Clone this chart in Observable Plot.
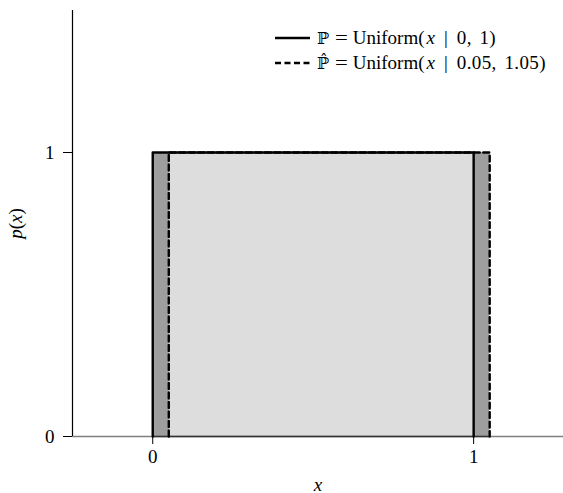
<!DOCTYPE html>
<html><head><meta charset="utf-8">
<script src="https://cdn.jsdelivr.net/npm/d3@7"></script>
<script src="https://cdn.jsdelivr.net/npm/@observablehq/plot@0.6"></script>
<style>
body{margin:0;background:#fff;}
#wrap{position:relative;width:563px;height:493px;font-family:"Liberation Serif","Times New Roman",serif;}
#legend{position:absolute;left:275px;top:25px;font-size:19px;line-height:25px;color:#000;}
#legend .row{display:flex;align-items:center;white-space:nowrap;height:25px;}
#legend svg{margin-right:7px;}
.sym{font-family:"DejaVu Serif",serif;font-size:16px;}
.eq{display:inline-block;margin:0 6px 0 7px;transform:scaleX(1.2);}
.bar{display:inline-block;margin:0 9px 0 9px;}
.xi{display:inline-block;margin-left:2px;}
.args{word-spacing:2.5px;letter-spacing:0.4px;}
</style></head>
<body><div id="wrap"><div id="legend"></div></div>
<script>
// Data
const pSupport = [0, 1];        // P = Uniform(x | 0, 1)
const qSupport = [0.05, 1.05];  // P̂ = Uniform(x | 0.05, 1.05)
const density = 1;
const xTicks = [0, 1];
const yTicks = [0, 1];
const xDomain = [-0.25, 1.28];
const yDomain = [0, 1.5];
const legendSymbols = ["ℙ", "ℙ\u0302"];
const legendLabels = ["0, 1", "0.05, 1.05"];

const boxPath = ([a, b]) => [
  {x: a, y: 0}, {x: a, y: density}, {x: b, y: density}, {x: b, y: 0}
];
const overlap = [{x1: Math.max(pSupport[0], qSupport[0]), x2: Math.min(pSupport[1], qSupport[1])}];
const diffs = [
  {x1: Math.min(pSupport[0], qSupport[0]), x2: Math.max(pSupport[0], qSupport[0])},
  {x1: Math.min(pSupport[1], qSupport[1]), x2: Math.max(pSupport[1], qSupport[1])}
];

const chart = Plot.plot({
  width: 563, height: 493,
  marginLeft: 72, marginRight: 0, marginTop: 10, marginBottom: 57,
  style: {fontFamily: "'Liberation Serif', 'Times New Roman', serif", fontSize: "19px", color: "#000", background: "#fff"},
  x: {domain: xDomain},
  y: {domain: yDomain},
  marks: [
    Plot.rect(overlap, {x1: "x1", x2: "x2", y1: 0, y2: density, fill: "#dddddd"}),
    Plot.rect(diffs, {x1: "x1", x2: "x2", y1: 0, y2: density, fill: "#9e9e9e"}),
    Plot.ruleY([0], {stroke: "#808080", strokeWidth: 1.5}),
    Plot.ruleY([0], {x1: d3.min([pSupport[0], qSupport[0]]), x2: d3.max([pSupport[1], qSupport[1]]), stroke: "#333", strokeWidth: 1.5}),
    Plot.ruleX([xDomain[0]], {y1: yDomain[0], y2: yDomain[1], stroke: "#000", strokeWidth: 1.2}),
    Plot.line(boxPath(pSupport), {x: "x", y: "y", stroke: "#000", strokeWidth: 2.4}),
    Plot.line(boxPath(qSupport), {x: "x", y: "y", stroke: "#000", strokeWidth: 2.4, strokeDasharray: "6,3.5"}),
    Plot.axisX({ticks: xTicks, tickSize: 8, tickPadding: 5, tickFormat: d3.format("d"), label: "x", labelAnchor: "center", labelOffset: 54, labelArrow: "none"}),
    Plot.axisY({ticks: yTicks, tickSize: 9, tickPadding: 9, tickFormat: d3.format("d"), label: "p(x)", labelAnchor: "center", labelOffset: 64, labelArrow: "none"})
  ]
});
document.getElementById("wrap").prepend(chart);

// italic math labels
d3.select(chart).select('g[aria-label="x-axis label"] text').style("font-style", "italic");
const yl = d3.select(chart).select('g[aria-label="y-axis label"] text');
yl.text(null);
yl.append("tspan").style("font-style", "italic").text("p");
yl.append("tspan").text("(");
yl.append("tspan").style("font-style", "italic").text("x");
yl.append("tspan").text(")");

// Legend
const legend = d3.select("#legend");
const dashes = [null, "6,3.5"];
legendLabels.forEach((args, i) => {
  const row = legend.append("div").attr("class", "row");
  const s = row.append("svg").attr("width", 35).attr("height", 10);
  s.append("line").attr("x1", 0).attr("x2", 35).attr("y1", 5).attr("y2", 5)
    .attr("stroke", "#000").attr("stroke-width", 2.4).attr("stroke-dasharray", dashes[i]);
  const t = row.append("span");
  t.append("span").attr("class", "sym").text(legendSymbols[i]);
  t.append("span").attr("class", "eq").text("=");
  t.append("span").text("Uniform(");
  t.append("i").attr("class", "xi").text("x");
  t.append("span").attr("class", "bar").text("|");
  t.append("span").attr("class", "args").text(args + ")");
});
</script></body></html>
